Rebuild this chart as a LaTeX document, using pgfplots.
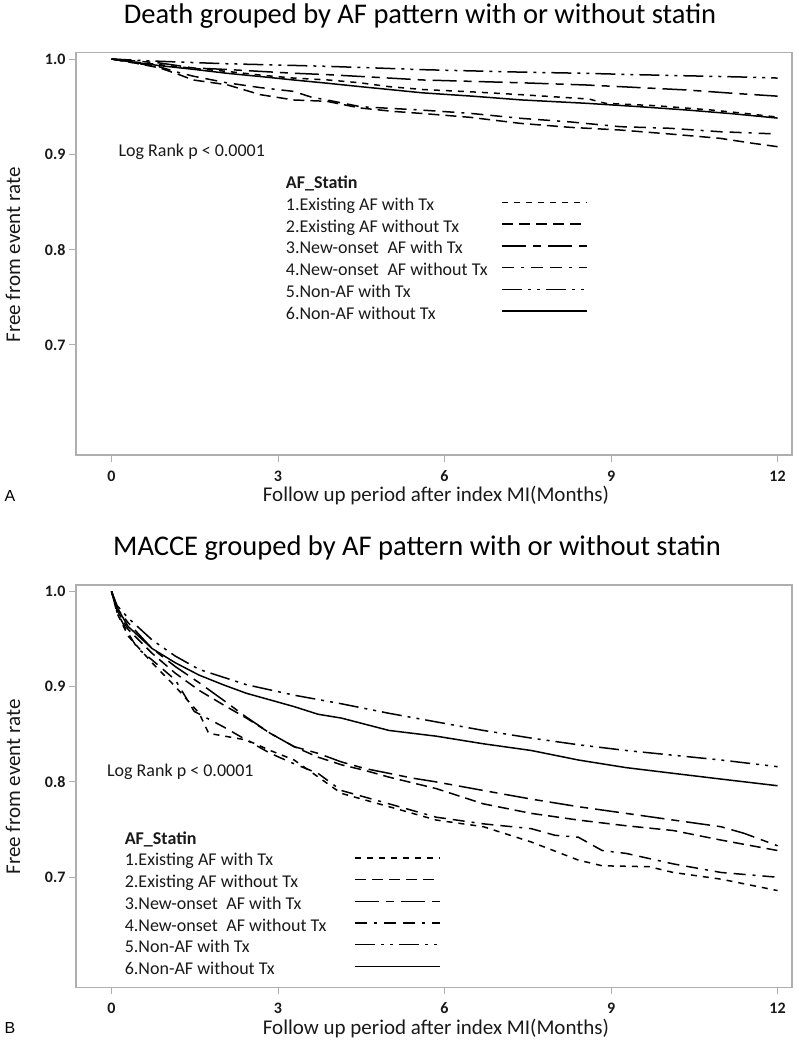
\documentclass[border=0pt]{standalone}
\usepackage{pgfplots}
\pgfplotsset{compat=1.18}
\usepackage{fontspec}
\setmainfont{Carlito}
\newfontfamily\arialfont{Liberation Sans}
\definecolor{boxgray}{RGB}{175,175,175}
\definecolor{txt}{RGB}{25,25,25}
\tikzset{
  s1/.style={black, line width=1.5pt, dash pattern=on 6pt off 6pt},
  s2/.style={black, line width=1.5pt, dash pattern=on 11pt off 6pt},
  s3/.style={black, line width=1.5pt, dash pattern=on 24pt off 7pt on 8pt off 7pt},
  s4/.style={black, line width=1.5pt, dash pattern=on 12pt off 7pt on 3pt off 7pt on 12pt off 7pt},
  s5/.style={black, line width=1.5pt, dash pattern=on 20pt off 6pt on 3pt off 6pt on 3pt off 6pt},
  s6/.style={black, line width=1.5pt, solid},
}
\pgfplotsset{
  kmaxis/.style={
    scale only axis, width=716pt, height=402.3pt,
    xmin=-0.64, xmax=12.26, ymin=0.5845, ymax=1.0066,
    xtick={0,3,6,9,12}, ytick={0.7,0.8,0.9,1.0},
    yticklabels={0.7,0.8,0.9,1.0},
    tick pos=left, tick align=outside, major tick length=7pt,
    tick style={boxgray, line width=0.9pt},
    axis line style={boxgray, line width=1.1pt},
    /pgf/number format/assume math mode=true,
    ticklabel style={font=\bfseries\fontsize{16}{16}\selectfont, text=txt},
    xticklabel style={yshift=-5pt},
    legend plot pos=right,
    legend cell align=left,
    legend image code/.code={\draw[##1] (0pt,4pt) -- (85pt,4pt);},
  },
}
\begin{document}
\begin{tikzpicture}
\useasboundingbox (0pt,0pt) rectangle (800pt,-1047pt);
% ---------------- Panel A ----------------
\node[font=\fontsize{28.5}{28.5}\selectfont] at (420pt,-16pt) {Death grouped by AF pattern with or without statin};
\node[rotate=90, font=\fontsize{21}{21}\selectfont, text=txt] at (13pt,-255pt) {Free from event rate};
\node[font=\fontsize{21}{21}\selectfont, text=txt] at (436pt,-496pt) {Follow up period after index MI(Months)};
\node[font=\arialfont\fontsize{16}{16}\selectfont] at (10pt,-496pt) {A};
\begin{axis}[kmaxis, at={(76pt,-52.7pt)}, anchor=north west,
  legend style={at={(0.2887,0.697)}, anchor=north west, draw=none, fill=none,
    font=\fontsize{18}{18}\selectfont, text=txt, row sep=5.7pt,
    nodes={inner sep=0pt, text height=12pt, text depth=4pt},
    /tikz/every odd column/.append style={column sep=14pt}}]
\addlegendimage{empty legend}
\addlegendentry{\textbf{AF\_Statin}}
\addplot[s1] coordinates {(0,1) (0.4,0.997) (0.87,0.994) (1.5,0.990) (2.08,0.987) (2.7,0.983) (3.28,0.980) (3.9,0.978) (4.48,0.975) (5.0,0.971) (5.6,0.968) (6.5,0.9655) (7.4,0.9625) (8.6,0.958) (8.9,0.9535) (9.8,0.951) (10.8,0.9465) (11.4,0.943) (12,0.939)};
\addlegendentry{1.Existing AF with Tx}
\addplot[s2] coordinates {(0,1) (0.4,0.996) (0.87,0.9906) (1.2,0.984) (1.47,0.978) (2.08,0.973) (2.68,0.9626) (3.28,0.957) (3.88,0.9556) (4.48,0.9486) (5.08,0.945) (5.56,0.943) (6.46,0.9388) (7.36,0.9325) (8.26,0.9283) (9.16,0.9255) (10.06,0.9213) (10.96,0.9168) (11.56,0.9115) (12,0.908)};
\addlegendentry{2.Existing AF without Tx}
\addplot[s3] coordinates {(0,1) (0.4,0.998) (0.87,0.9958) (1.2,0.993) (1.47,0.9906) (2.08,0.989) (2.68,0.987) (3.3,0.985) (3.88,0.9836) (4.7,0.981) (5.6,0.978) (6.5,0.9765) (7.4,0.975) (8.56,0.9727) (9.16,0.971) (10.36,0.9675) (11.2,0.964) (12,0.961)};
\addlegendentry{3.New-onset\hspace{0.25em} AF with Tx}
\addplot[s4] coordinates {(0,1) (0.4,0.996) (0.87,0.9916) (1.2,0.986) (1.47,0.982) (2.08,0.975) (2.68,0.970) (3.28,0.966) (3.6,0.960) (3.88,0.957) (4.48,0.950) (5.08,0.948) (5.56,0.9465) (6.46,0.943) (7.36,0.9378) (8.26,0.934) (9.16,0.929) (10.06,0.9273) (10.96,0.9237) (12,0.9213)};
\addlegendentry{4.New-onset\hspace{0.25em} AF without Tx}
\addplot[s5] coordinates {(0,1.0) (0.5,0.9985) (0.87,0.9976) (1.5,0.9962) (2.08,0.995) (3.0,0.9937) (3.88,0.9923) (4.8,0.9905) (5.6,0.9888) (6.5,0.9875) (7.4,0.9862) (8.5,0.985) (9.5,0.9835) (10.5,0.9822) (11.3,0.9812) (12,0.980)};
\addlegendentry{5.Non-AF with Tx}
\addplot[s6] coordinates {(0,1) (0.4,0.9965) (0.87,0.993) (1.5,0.989) (2.08,0.985) (2.7,0.9815) (3.28,0.978) (3.9,0.9745) (4.48,0.971) (5.0,0.968) (5.6,0.9645) (6.5,0.961) (7.4,0.957) (8.56,0.9535) (9.5,0.950) (10.36,0.9465) (11.2,0.9425) (12,0.938)};
\addlegendentry{6.Non-AF without Tx}
\node[anchor=west, font=\fontsize{18}{18}\selectfont, text=txt] at (rel axis cs:0.0545,0.754) {Log Rank p < 0.0001};
\end{axis}
% ---------------- Panel B ----------------
\node[font=\fontsize{28.5}{28.5}\selectfont] at (417pt,-548pt) {MACCE grouped by AF pattern with or without statin};
\node[rotate=90, font=\fontsize{21}{21}\selectfont, text=txt] at (13pt,-787pt) {Free from event rate};
\node[font=\fontsize{21}{21}\selectfont, text=txt] at (436pt,-1028pt) {Follow up period after index MI(Months)};
\node[font=\arialfont\fontsize{16}{16}\selectfont] at (10pt,-1028pt) {B};
\begin{axis}[kmaxis, at={(76pt,-585pt)}, anchor=north west,
  legend style={at={(0.0637,0.391)}, anchor=north west, draw=none, fill=none,
    font=\fontsize{18}{18}\selectfont, text=txt, row sep=5.7pt,
    nodes={inner sep=0pt, text height=12pt, text depth=4pt},
    /tikz/every odd column/.append style={column sep=28pt}}]
\addlegendimage{empty legend}
\addlegendentry{\textbf{AF\_Statin}}
\addplot[s1] coordinates {(0,1) (0.1,0.977) (0.3,0.953) (0.73,0.925) (1.15,0.900) (1.58,0.872) (1.75,0.851) (2.43,0.844) (2.86,0.833) (3.29,0.823) (4.14,0.788) (5.0,0.774) (5.85,0.760) (6.7,0.753) (7.56,0.737) (8.41,0.718) (8.84,0.712) (9.69,0.711) (10.12,0.705) (10.98,0.698) (12,0.686)};
\addlegendentry{1.Existing AF with Tx}
\addplot[s2] coordinates {(0,1) (0.1,0.980) (0.3,0.960) (0.73,0.935) (1.15,0.914) (1.58,0.896) (2.01,0.881) (2.43,0.867) (2.86,0.851) (3.29,0.837) (3.72,0.826) (4.14,0.818) (4.57,0.812) (5.0,0.805) (5.85,0.793) (6.7,0.777) (7.56,0.767) (8.41,0.760) (9.27,0.754) (10.12,0.749) (10.98,0.739) (12,0.728)};
\addlegendentry{2.Existing AF without Tx}
\addplot[s3] coordinates {(0,1) (0.1,0.982) (0.3,0.967) (0.73,0.940) (1.15,0.921) (1.58,0.904) (2.01,0.886) (2.43,0.868) (2.86,0.851) (3.29,0.837) (3.72,0.830) (4.14,0.821) (4.57,0.814) (5.0,0.809) (5.42,0.804) (5.85,0.800) (6.7,0.791) (7.56,0.782) (8.41,0.774) (9.27,0.767) (10.12,0.760) (10.98,0.753) (11.4,0.746) (12,0.733)};
\addlegendentry{3.New-onset\hspace{0.25em} AF with Tx}
\addplot[s4] coordinates {(0,1) (0.1,0.978) (0.3,0.956) (0.47,0.940) (0.73,0.928) (1.15,0.907) (1.49,0.874) (2.01,0.858) (2.43,0.844) (2.86,0.830) (3.29,0.819) (3.72,0.809) (4.14,0.791) (5.0,0.777) (5.85,0.763) (6.7,0.756) (7.56,0.751) (7.99,0.744) (8.41,0.742) (8.84,0.728) (9.27,0.725) (10.12,0.714) (10.98,0.705) (12,0.700)};
\addlegendentry{4.New-onset\hspace{0.25em} AF without Tx}
\addplot[s5] coordinates {(0,1) (0.1,0.985) (0.3,0.972) (0.73,0.949) (1.15,0.932) (1.58,0.918) (2.43,0.902) (3.29,0.891) (4.14,0.882) (5.0,0.872) (5.85,0.863) (6.7,0.854) (7.56,0.846) (8.41,0.839) (9.27,0.833) (10.12,0.828) (10.98,0.823) (12,0.816)};
\addlegendentry{5.Non-AF with Tx}
\addplot[s6] coordinates {(0,1) (0.1,0.983) (0.3,0.963) (0.73,0.940) (1.15,0.925) (1.58,0.912) (2.01,0.902) (2.43,0.893) (2.86,0.886) (3.29,0.879) (3.72,0.871) (4.14,0.867) (5.0,0.854) (5.85,0.848) (6.7,0.840) (7.56,0.833) (8.41,0.823) (9.27,0.815) (10.12,0.809) (10.98,0.803) (12,0.796)};
\addlegendentry{6.Non-AF without Tx}
\node[anchor=west, font=\fontsize{18}{18}\selectfont, text=txt] at (rel axis cs:0.0385,0.535) {Log Rank p < 0.0001};
\end{axis}
\end{tikzpicture}
\end{document}
